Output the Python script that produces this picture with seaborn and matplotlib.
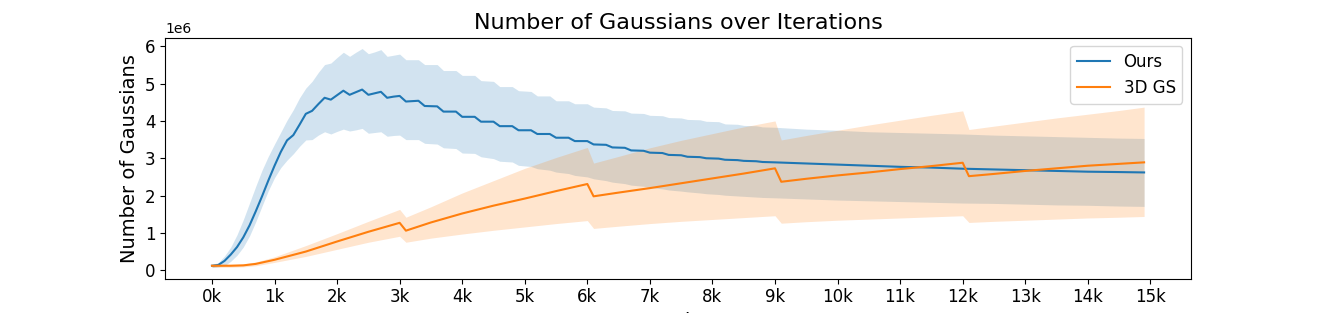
import numpy as np
import matplotlib
matplotlib.use('Agg')
import matplotlib.pyplot as plt
import seaborn as sns
from matplotlib.ticker import FuncFormatter

# ---------------------------------------------
# Data (iterations in thousands, counts in millions)
# ---------------------------------------------

ours_iters_k = [
    0.0, 0.1, 0.2, 0.3, 0.4, 0.5, 0.6, 0.7, 0.8, 0.9,
    1.0, 1.1, 1.2, 1.3, 1.4, 1.5, 1.6, 1.7, 1.8, 1.9,
    2.0, 2.1, 2.2, 2.3, 2.4, 2.5, 2.6, 2.7, 2.8, 2.9, 3.0,
    3.1, 3.3, 3.4, 3.6, 3.7, 3.9, 4.0, 4.2, 4.3, 4.5,
    4.6, 4.8, 4.9, 5.1, 5.2, 5.4, 5.5, 5.7, 5.8, 6.0,
    6.1, 6.3, 6.4, 6.6, 6.7, 6.9, 7.0, 7.2, 7.3, 7.5,
    7.6, 7.8, 7.9, 8.1, 8.2, 8.4, 8.5, 8.7, 8.8, 9.0,
    9.5, 10.0, 10.5, 11.0, 11.5, 12.0, 12.5, 13.0, 13.5, 14.0, 14.5, 14.9,
]
ours_mean = [
    0.12, 0.14, 0.25, 0.42, 0.62, 0.88, 1.20, 1.58, 1.98, 2.40,
    2.80, 3.17, 3.48, 3.62, 3.90, 4.19, 4.27, 4.45, 4.62, 4.57,
    4.69, 4.81, 4.70, 4.77, 4.84, 4.70, 4.74, 4.78, 4.62, 4.65, 4.67,
    4.52, 4.54, 4.40, 4.39, 4.25, 4.25, 4.11, 4.11, 3.98, 3.98,
    3.86, 3.86, 3.75, 3.75, 3.65, 3.65, 3.55, 3.55, 3.46, 3.46,
    3.37, 3.36, 3.29, 3.28, 3.21, 3.20, 3.15, 3.14, 3.09, 3.08,
    3.04, 3.03, 3.00, 2.99, 2.96, 2.95, 2.93, 2.92, 2.90, 2.89,
    2.86, 2.83, 2.80, 2.77, 2.75, 2.72, 2.70, 2.68, 2.66, 2.64, 2.63, 2.62,
]
ours_high = [
    0.16, 0.20, 0.38, 0.62, 0.95, 1.35, 1.80, 2.25, 2.68, 3.05,
    3.38, 3.70, 4.02, 4.30, 4.62, 4.88, 5.06, 5.30, 5.51, 5.55,
    5.70, 5.84, 5.73, 5.84, 5.94, 5.80, 5.85, 5.91, 5.73, 5.76, 5.79,
    5.64, 5.64, 5.51, 5.51, 5.35, 5.35, 5.22, 5.22, 5.08, 5.06,
    4.92, 4.92, 4.81, 4.79, 4.67, 4.67, 4.54, 4.54, 4.46, 4.46,
    4.37, 4.35, 4.28, 4.27, 4.21, 4.20, 4.15, 4.14, 4.09, 4.08,
    4.04, 4.03, 3.99, 3.98, 3.92, 3.91, 3.88, 3.87, 3.84, 3.83,
    3.78, 3.75, 3.71, 3.69, 3.67, 3.65, 3.62, 3.60, 3.58, 3.56, 3.54, 3.53,
]
ours_low = [
    0.07, 0.09, 0.12, 0.24, 0.40, 0.62, 0.92, 1.30, 1.72, 2.13,
    2.48, 2.75, 2.95, 3.12, 3.32, 3.49, 3.50, 3.62, 3.71, 3.65,
    3.72, 3.78, 3.73, 3.76, 3.80, 3.67, 3.69, 3.71, 3.59, 3.61, 3.62,
    3.50, 3.50, 3.40, 3.38, 3.28, 3.26, 3.14, 3.13, 3.04, 2.99,
    2.92, 2.90, 2.81, 2.78, 2.72, 2.68, 2.63, 2.59, 2.54, 2.50,
    2.45, 2.40, 2.36, 2.32, 2.28, 2.25, 2.22, 2.18, 2.15, 2.12,
    2.10, 2.07, 2.05, 2.03, 2.01, 1.99, 1.98, 1.96, 1.95, 1.94,
    1.91, 1.88, 1.86, 1.84, 1.82, 1.80, 1.79, 1.77, 1.75, 1.74, 1.72, 1.71,
]

gs_iters_k = [
    0.0, 0.3, 0.5, 0.7, 1.0, 1.5, 2.0, 2.5, 3.0,
    3.1, 3.5, 4.0, 4.5, 5.0, 5.5, 6.0,
    6.1, 6.5, 7.0, 7.5, 8.0, 8.5, 9.0,
    9.1, 9.5, 10.0, 10.5, 11.0, 11.5, 12.0,
    12.1, 12.5, 13.0, 13.5, 14.0, 14.5, 14.9,
]
gs_mean = [
    0.12, 0.12, 0.13, 0.17, 0.28, 0.50, 0.77, 1.03, 1.27,
    1.06, 1.28, 1.52, 1.73, 1.92, 2.12, 2.31,
    1.98, 2.08, 2.20, 2.33, 2.46, 2.59, 2.73,
    2.37, 2.45, 2.54, 2.62, 2.71, 2.79, 2.88,
    2.52, 2.58, 2.66, 2.73, 2.80, 2.85, 2.89,
]
gs_high = [
    0.16, 0.16, 0.17, 0.22, 0.36, 0.66, 0.98, 1.31, 1.63,
    1.42, 1.70, 2.07, 2.40, 2.73, 3.02, 3.29,
    2.87, 3.05, 3.28, 3.48, 3.66, 3.84, 4.00,
    3.49, 3.61, 3.75, 3.89, 4.02, 4.15, 4.27,
    3.77, 3.86, 3.97, 4.08, 4.18, 4.28, 4.37,
]
gs_low = [
    0.08, 0.08, 0.09, 0.12, 0.21, 0.37, 0.56, 0.75, 0.91,
    0.75, 0.86, 0.97, 1.07, 1.16, 1.25, 1.33,
    1.12, 1.18, 1.25, 1.31, 1.36, 1.41, 1.46,
    1.26, 1.30, 1.34, 1.37, 1.40, 1.43, 1.46,
    1.28, 1.31, 1.34, 1.37, 1.40, 1.42, 1.44,
]

tick_iters = list(range(0, 15001, 1000))

# ---------------------------------------------
# Plot
# ---------------------------------------------

blue = '#1f77b4'
orange = '#ff7f0e'

ours_x = np.array(ours_iters_k) * 1000
gs_x = np.array(gs_iters_k) * 1000

fig, ax = plt.subplots(figsize=(13.23, 3.13), dpi=100)

sns.lineplot(x=ours_x, y=np.array(ours_mean) * 1e6, color=blue, label='Ours', ax=ax)
ax.fill_between(ours_x, np.array(ours_low) * 1e6, np.array(ours_high) * 1e6,
                color=blue, alpha=0.2, linewidth=0)

sns.lineplot(x=gs_x, y=np.array(gs_mean) * 1e6, color=orange, label='3D GS', ax=ax)
ax.fill_between(gs_x, np.array(gs_low) * 1e6, np.array(gs_high) * 1e6,
                color=orange, alpha=0.2, linewidth=0)

ax.set_xticks(tick_iters)
ax.xaxis.set_major_formatter(FuncFormatter(lambda v, pos: f"{int(round(v / 1000))}k"))
ax.tick_params(labelsize=12)

ax.set_title('Number of Gaussians over Iterations', fontsize=16)
ax.set_xlabel('Iterations', fontsize=14)
ax.set_ylabel('Number of Gaussians', fontsize=14)
ax.legend(loc='upper right', fontsize=12)

plt.savefig('out.png', dpi=100)
